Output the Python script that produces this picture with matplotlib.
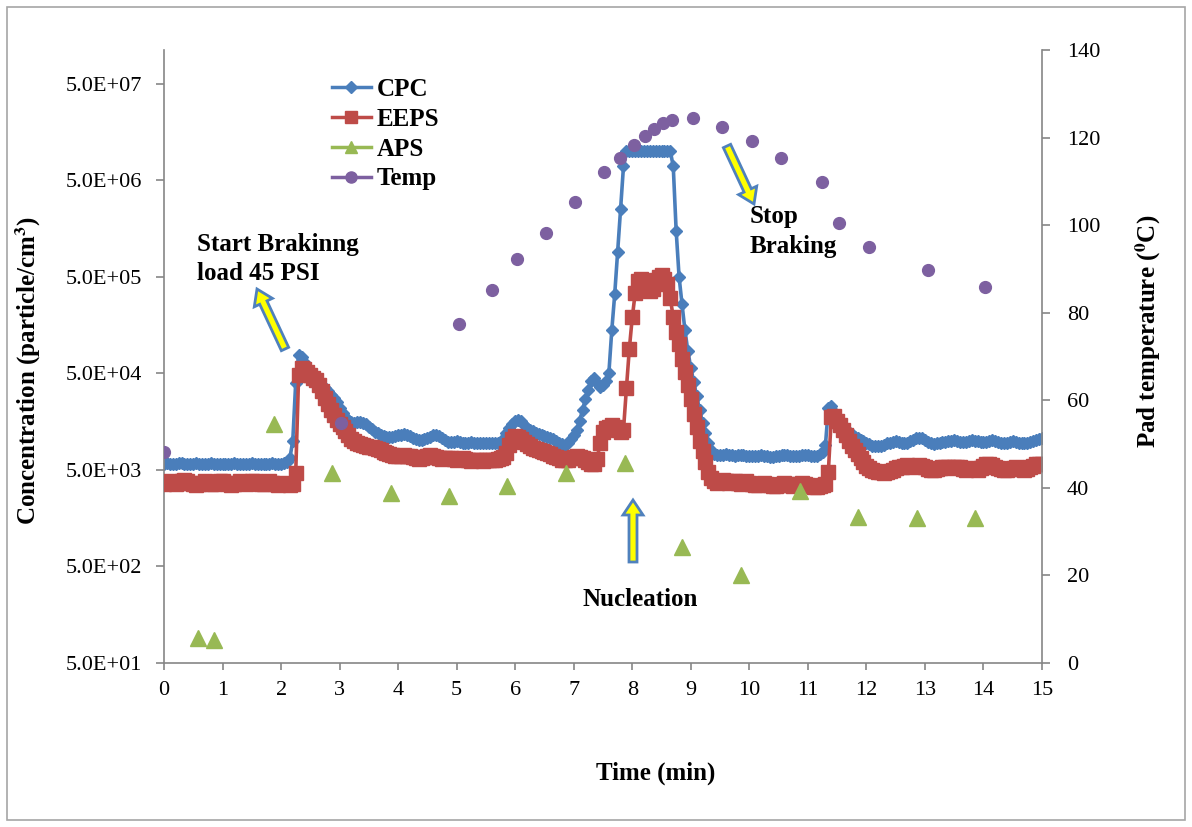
import numpy as np
import matplotlib
matplotlib.use("Agg")
import matplotlib.pyplot as plt
from matplotlib.patches import FancyArrow, Rectangle
from matplotlib.lines import Line2D
from matplotlib.ticker import FixedLocator, FixedFormatter, NullLocator
from matplotlib.transforms import IdentityTransform

plt.rcParams['font.family'] = ['Liberation Serif', 'DejaVu Serif']
plt.rcParams['mathtext.fontset'] = 'stix'

# ---------------------------------------------------------------------------
# Data: CPC and EEPS sampled every 0.05 min (values in 10^3 particle/cm^3)
# ---------------------------------------------------------------------------
STEP_MIN = 0.05

CPC_K = [
    # 0.00 - 0.95
    5.8, 5.9, 5.8, 5.7, 5.8, 5.9, 5.9, 5.8, 5.7, 5.8, 5.8, 5.9, 5.8, 5.7, 5.7, 5.8, 5.9, 5.8, 5.8, 5.7,
    # 1.00 - 1.95
    5.8, 5.8, 5.7, 5.8, 5.9, 5.8, 5.7, 5.7, 5.8, 5.8, 5.9, 5.8, 5.7, 5.8, 5.8, 5.7, 5.8, 5.9, 5.8, 5.7,
    # 2.00 - 2.95
    5.8, 5.9, 6.0, 6.6, 10, 40, 78, 74, 66, 58, 52, 47, 43, 40, 38, 35, 33, 30, 28, 25,
    # 3.00 - 3.95
    22, 19.5, 17.5, 16.5, 15.8, 15.5, 15.8, 15.6, 15.2, 14.8, 14, 13.2, 12.5, 12, 11.6, 11.3, 11.1, 11.0, 11.0, 11.2,
    # 4.00 - 4.95
    11.4, 11.6, 11.7, 11.5, 11.2, 10.8, 10.5, 10.3, 10.2, 10.4, 10.7, 11.1, 11.5, 11.6, 11.2, 10.6, 10.1, 9.8, 9.7, 9.8,
    # 5.00 - 5.95
    9.9, 9.8, 9.6, 9.5, 9.6, 9.7, 9.6, 9.5, 9.4, 9.5, 9.6, 9.5, 9.4, 9.5, 9.6, 9.8, 10.5, 12, 13.5, 15,
    # 6.00 - 6.95
    16, 16.5, 16, 14.5, 13.5, 13, 12.6, 12.2, 11.8, 11.5, 11.2, 11, 10.8, 10.4, 10, 9.6, 9.2, 9.1, 9.6, 10.5,
    # 7.00 - 7.95
    11.5, 13, 16, 21, 27, 34, 42, 45, 40, 36, 38, 42, 50, 140, 330, 900, 2500, 7000, 10000, 10000,
    # 8.00 - 8.95
    10000, 10000, 10000, 10000, 10000, 10000, 10000, 10000, 10000, 10000, 10000, 10000, 10000, 10000,
    7000, 1500, 500, 260, 140, 85,
    # 9.00 - 9.95
    57, 41, 29, 21, 15.5, 12, 9.5, 8, 7.3, 7.2, 7.1, 7.2, 7.3, 7.2, 7.1, 7.0, 7.1, 7.2, 7.1, 7.0,
    # 10.00 - 10.95
    7.0, 6.9, 6.9, 7.0, 7.1, 7.0, 6.9, 6.8, 6.8, 6.9, 7.0, 7.1, 7.2, 7.1, 7.0, 6.9, 6.9, 7.0, 7.1, 7.2,
    # 11.00 - 11.95
    7.1, 7.0, 6.9, 7.0, 7.3, 7.6, 9, 22, 23, 20, 17, 15, 13.8, 13, 12.3, 11.7, 11.1, 10.6, 10.3, 10,
    # 12.00 - 12.95
    9.6, 9.2, 8.9, 8.8, 8.8, 8.9, 9.1, 9.4, 9.6, 9.8, 9.9, 9.8, 9.6, 9.5, 9.6, 9.9, 10.3, 10.6, 10.8, 10.6,
    # 13.00 - 13.95
    10.1, 9.7, 9.4, 9.3, 9.4, 9.6, 9.7, 9.8, 9.9, 10.0, 10.1, 10.0, 9.8, 9.7, 9.8, 10.0, 10.1, 10.0, 9.9, 9.8,
    # 14.00 - 14.95
    9.7, 9.8, 10.0, 10.1, 10.0, 9.8, 9.6, 9.5, 9.6, 9.8, 9.9, 9.8, 9.6, 9.5, 9.5, 9.6, 9.8, 10.0, 10.2, 10.4,
    # 15.00
    10.6,
]

EEPS_K = [
    # 0.00 - 0.95
    3.6, 3.7, 3.8, 3.7, 3.6, 3.7, 3.8, 3.9, 3.8, 3.7, 3.6, 3.5, 3.6, 3.7, 3.8, 3.7, 3.6, 3.6, 3.7, 3.8,
    # 1.00 - 1.95
    3.8, 3.7, 3.6, 3.5, 3.6, 3.7, 3.8, 3.7, 3.6, 3.7, 3.8, 3.8, 3.7, 3.6, 3.6, 3.7, 3.8, 3.7, 3.6, 3.5,
    # 2.00 - 2.95
    3.6, 3.7, 3.6, 3.5, 3.6, 4.6, 48, 57, 55, 52, 48, 45, 43, 38, 33, 28, 24, 21, 18.5, 16.5,
    # 3.00 - 3.95
    15, 14, 12.8, 11.5, 10.5, 10, 9.5, 9.2, 9, 8.8, 8.7, 8.6, 8.5, 8.3, 8, 7.7, 7.5, 7.3, 7.1, 7.0,
    # 4.00 - 4.95
    6.9, 7.0, 7.1, 7.0, 6.9, 6.8, 6.6, 6.5, 6.6, 6.8, 7.0, 7.1, 7.0, 6.8, 6.6, 6.5, 6.6, 6.7, 6.6, 6.5,
    # 5.00 - 5.95
    6.4, 6.5, 6.6, 6.5, 6.3, 6.2, 6.3, 6.4, 6.3, 6.2, 6.3, 6.4, 6.3, 6.4, 6.5, 6.6, 6.8, 7.5, 9, 10.5,
    # 6.00 - 6.95
    11.2, 11, 10.5, 9.8, 9.2, 8.8, 8.5, 8.3, 8.1, 7.9, 7.7, 7.5, 7.3, 7.0, 6.8, 6.6, 6.4, 6.3, 6.4, 6.6,
    # 7.00 - 7.95
    6.8, 6.9, 6.8, 6.6, 6.3, 6.0, 5.8, 5.8, 6.5, 9.5, 12.5, 13.5, 14, 14.5, 14, 13, 12.5, 13, 35, 90,
    # 8.00 - 8.95
    190, 340, 450, 470, 420, 380, 360, 370, 460, 500, 520, 480, 420, 300, 190, 135, 100, 70, 52, 38,
    # 9.00 - 9.95
    27, 19, 14, 10, 7.8, 6, 4.8, 4.1, 3.8, 3.7, 3.8, 3.9, 3.8, 3.7, 3.8, 3.8, 3.7, 3.6, 3.7, 3.8,
    # 10.00 - 10.95
    3.7, 3.6, 3.5, 3.5, 3.6, 3.7, 3.6, 3.5, 3.4, 3.4, 3.5, 3.6, 3.7, 3.6, 3.5, 3.4, 3.5, 3.6, 3.7, 3.6,
    # 11.00 - 11.95
    3.5, 3.4, 3.3, 3.3, 3.4, 3.5, 3.6, 4.8, 17.5, 18, 16, 14.5, 13, 11.5, 10, 8.8, 8, 7.3, 6.6, 6,
    # 12.00 - 12.95
    5.5, 5.2, 5.0, 4.9, 4.8, 4.8, 4.7, 4.8, 4.9, 5.0, 5.2, 5.3, 5.4, 5.5, 5.6, 5.5, 5.4, 5.5, 5.6, 5.5,
    # 13.00 - 13.95
    5.3, 5.1, 5.0, 5.0, 5.1, 5.2, 5.3, 5.4, 5.3, 5.2, 5.3, 5.4, 5.3, 5.1, 5.0, 5.1, 5.2, 5.1, 5.0, 5.2,
    # 14.00 - 14.95
    5.5, 5.7, 5.8, 5.6, 5.4, 5.2, 5.1, 5.0, 5.0, 5.1, 5.2, 5.3, 5.2, 5.1, 5.0, 5.1, 5.3, 5.5, 5.7, 5.8,
    # 15.00
    5.8,
]

# APS readings (particle/cm^3)
APS_TIME = [0.58, 0.85, 1.88, 2.87, 3.88, 4.87, 5.86, 6.87, 7.88, 8.85, 9.86, 10.87, 11.86, 12.86, 13.86]
APS_CONC = [91, 87, 15000, 4700, 2900, 2700, 3400, 4700, 5900, 790, 410, 3000, 1630, 1600, 1600]

# Pad temperature (deg C)
TEMP_TIME = [0, 3.02, 5.04, 5.6, 6.03, 6.53, 7.02, 7.52, 7.79, 8.03, 8.22, 8.37, 8.53, 8.68,
             9.04, 9.53, 10.05, 10.54, 11.24, 11.53, 12.05, 13.05, 14.03]
TEMP_C = [48.2, 54.7, 77.4, 85.2, 92.3, 98.2, 105.3, 112.1, 115.3, 118.3, 120.4, 122.0, 123.3, 124.0,
          124.5, 122.4, 119.2, 115.3, 109.9, 100.5, 95.0, 89.8, 85.9]

SERIES_NAMES = ['CPC', 'EEPS', 'APS', 'Temp']
Y_TICKS = [5e1, 5e2, 5e3, 5e4, 5e5, 5e6, 5e7]
Y_TICK_LABELS = ['5.0E+01', '5.0E+02', '5.0E+03', '5.0E+04', '5.0E+05', '5.0E+06', '5.0E+07']
X_TICKS = list(range(0, 16))
T_TICKS = list(range(0, 141, 20))

BLUE = '#4A7EBB'
RED = '#BE4B48'
GREEN = '#98B954'
PURPLE = '#7D60A0'
GRAY = '#868686'

# ---------------------------------------------------------------------------
W, H = 1192, 827
fig = plt.figure(figsize=(W / 100, H / 100), dpi=100)


def fx(px):
    return px / W


def fy(py):
    return 1 - py / H


ax = fig.add_axes([fx(164), fy(663), (1042 - 164) / W, (663 - 50) / H])
ax2 = ax.twinx()

time = np.arange(len(CPC_K)) * STEP_MIN
cpc = np.asarray(CPC_K) * 1e3
eeps = np.asarray(EEPS_K) * 1e3

ax.plot(time, cpc, color=BLUE, lw=2.6, marker='D', ms=6.5, mfc=BLUE, mec=BLUE, zorder=2)
ax.plot(time, eeps, color=RED, lw=2.6, marker='s', ms=10, mfc=RED, mec=RED, zorder=3)
ax.plot(APS_TIME, APS_CONC, ls='none', marker='^', ms=11, color=GREEN, zorder=4)
ax2.plot(TEMP_TIME, TEMP_C, ls='none', marker='o', ms=8.5, color=PURPLE, zorder=5)

# Left (log) axis
ax.set_xlim(0, 15)
ax.set_yscale('log')
ax.set_ylim(50, 1.12e8)
ax.yaxis.set_major_locator(FixedLocator(Y_TICKS))
ax.yaxis.set_major_formatter(FixedFormatter(Y_TICK_LABELS))
ax.yaxis.set_minor_locator(NullLocator())
ax.set_xticks(X_TICKS)
ax.set_xticklabels([str(v) for v in X_TICKS])

# Right (temperature) axis
ax2.set_ylim(0, 140)
ax2.set_yticks(T_TICKS)
ax2.set_yticklabels([str(v) for v in T_TICKS])

for a in (ax, ax2):
    for s in a.spines.values():
        s.set_color(GRAY)
        s.set_linewidth(1.2)
    a.spines['top'].set_visible(False)
ax.spines['right'].set_visible(False)
ax2.spines['left'].set_visible(False)
ax2.spines['bottom'].set_visible(False)

ax.tick_params(axis='y', direction='out', color=GRAY, length=6, width=1.2, labelsize=16, pad=10)
ax.tick_params(axis='x', direction='out', color=GRAY, length=5, width=1.2, labelsize=16, pad=8)
ax2.tick_params(axis='y', direction='out', color=GRAY, length=6, width=1.2, labelsize=16, pad=12)

# Axis titles
fig.text(fx(28), fy(371), 'Concentration (particle/cm$^{\\mathbf{3}}$)', rotation=90,
         ha='center', va='center', fontsize=18, fontweight='bold')
fig.text(fx(1148), fy(331), 'Pad temperature ($^{\\mathbf{0}}$C)', rotation=90,
         ha='center', va='center', fontsize=18, fontweight='bold')
fig.text(fx(656), fy(773), 'Time (min)', ha='center', va='center', fontsize=18, fontweight='bold')

# Legend
handles = [
    Line2D([], [], color=BLUE, lw=2.5, marker='D', ms=6),
    Line2D([], [], color=RED, lw=2.5, marker='s', ms=8),
    Line2D([], [], color=GREEN, lw=2.5, marker='^', ms=8),
    Line2D([], [], color=PURPLE, lw=2.5, marker='o', ms=8),
]
ax2.legend(handles, SERIES_NAMES, loc='upper left', bbox_to_anchor=(fx(332), fy(78)),
           bbox_transform=fig.transFigure, frameon=False,
           prop={'weight': 'bold', 'size': 18}, handlelength=1.55, handletextpad=0.25,
           labelspacing=0.27, borderpad=0, borderaxespad=0)

# Annotations
note_kw = dict(fontsize=18, fontweight='bold', va='center')
fig.text(fx(197), fy(245), 'Start Brakinng', ha='left', **note_kw)
fig.text(fx(197), fy(274), 'load 45 PSI', ha='left', **note_kw)
fig.text(fx(750), fy(217), 'Stop', ha='left', **note_kw)
fig.text(fx(750), fy(247), 'Braking', ha='left', **note_kw)
fig.text(fx(640), fy(600), 'Nucleation', ha='center', **note_kw)


def block_arrow(x0, y0, x1, y1):
    arrow = FancyArrow(x0, H - y0, x1 - x0, -(y1 - y0), width=8, head_width=20,
                       head_length=15, length_includes_head=True,
                       fc='#FFFF00', ec='#4F81BD', lw=2, transform=IdentityTransform())
    fig.add_artist(arrow)


block_arrow(285, 349, 257, 289)
block_arrow(727, 146, 754, 204)
block_arrow(633, 562, 633, 500)

# Chart area border
fig.add_artist(Rectangle((7, 7), W - 14, H - 14, fill=False, ec='#A6A6A6', lw=1.2,
                         transform=IdentityTransform()))

fig.savefig('out.png', dpi=100)
